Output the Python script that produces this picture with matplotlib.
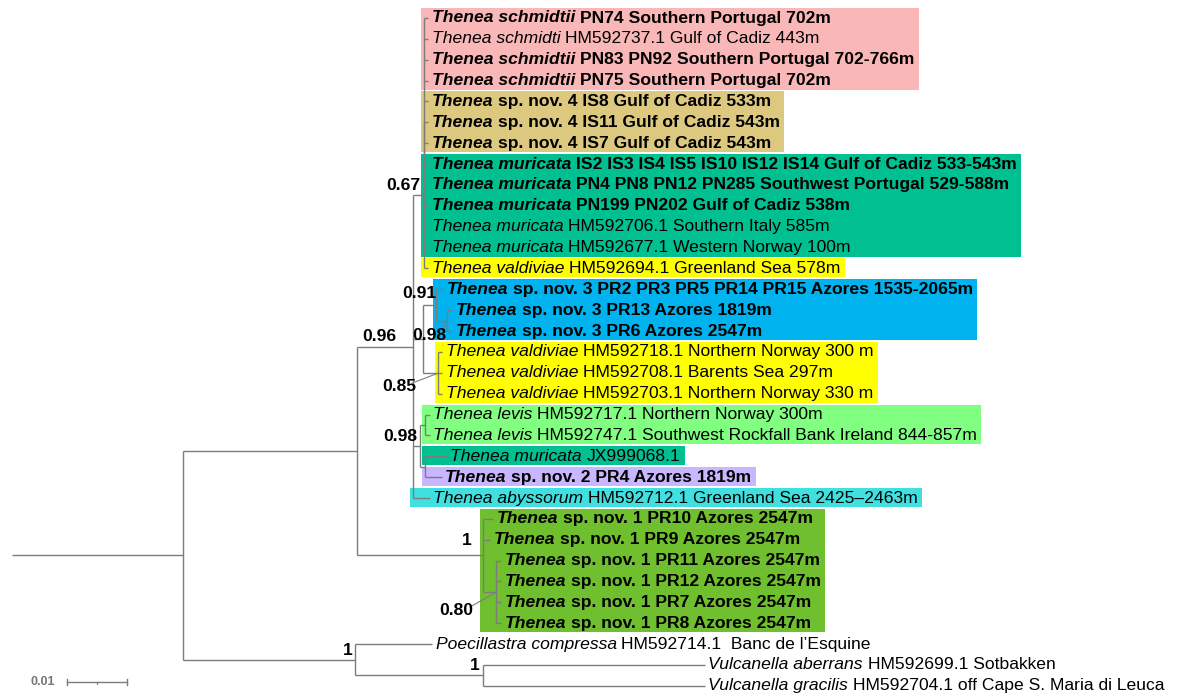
import matplotlib
matplotlib.use("Agg")
import matplotlib.pyplot as plt
from matplotlib.collections import LineCollection
from matplotlib.patches import Rectangle

# ---------------- DATA ----------------
# Tree topology with branch lengths (substitutions/site); leaves L1..L33 in display order
newick = ("(((((L1:0.0008,L2:0.0008,L3:0.0008,L4:0.0008,L5:0.0008,L6:0.0008,L7:0.0008,"
          "L8:0.0008,L9:0.0008,L10:0.0008,L11:0.0008)P:0,L12:0.0008,L13:0.0008)A:0.0018,"
          "((L14:0.0012,(L15:0.0008,L16:0.0008)N3b:0.0018)N3:0.0022,"
          "(L17:0.0007,L18:0.0007,L19:0.0007)V2:0.0025)C:0.0017,"
          "((L20:0.0008,L21:0.0008)LP:0.0008,(L22:0.0037,L23:0.0028)JN:0.0008)L:0.0012,"
          "L24:0.0028)B:0.0093,"
          "(L25:0.0017,L26:0.0012,(L27:0.0008,L28:0.0008,L29:0.0008,L30:0.0008)S:0.0022)N1:0.0210)I:0.0290,"
          "(L31:0.0128,(L32:0.0370,L33:0.0370)V:0.0213)O:0.0287)R:0.0285;")

taxon_names = [
    "Thenea schmidtii", "Thenea schmidti", "Thenea schmidtii", "Thenea schmidtii",
    "Thenea", "Thenea", "Thenea",
    "Thenea muricata", "Thenea muricata", "Thenea muricata", "Thenea muricata", "Thenea muricata",
    "Thenea valdiviae",
    "Thenea", "Thenea", "Thenea",
    "Thenea valdiviae", "Thenea valdiviae", "Thenea valdiviae",
    "Thenea levis", "Thenea levis", "Thenea muricata", "Thenea", "Thenea abyssorum",
    "Thenea", "Thenea", "Thenea", "Thenea", "Thenea", "Thenea",
    "Poecillastra compressa", "Vulcanella aberrans", "Vulcanella gracilis",
]
taxon_details = [
    "PN74 Southern Portugal 702m", "HM592737.1 Gulf of Cadiz 443m",
    "PN83 PN92 Southern Portugal 702-766m", "PN75 Southern Portugal 702m",
    "sp. nov. 4 IS8 Gulf of Cadiz 533m", "sp. nov. 4 IS11 Gulf of Cadiz 543m",
    "sp. nov. 4 IS7 Gulf of Cadiz 543m",
    "IS2 IS3 IS4 IS5 IS10 IS12 IS14 Gulf of Cadiz 533-543m",
    "PN4 PN8 PN12 PN285 Southwest Portugal 529-588m",
    "PN199 PN202 Gulf of Cadiz 538m",
    "HM592706.1 Southern Italy 585m", "HM592677.1 Western Norway 100m",
    "HM592694.1 Greenland Sea 578m",
    "sp. nov. 3 PR2 PR3 PR5 PR14 PR15 Azores 1535-2065m",
    "sp. nov. 3 PR13 Azores 1819m", "sp. nov. 3 PR6 Azores 2547m",
    "HM592718.1 Northern Norway 300 m", "HM592708.1 Barents Sea 297m",
    "HM592703.1 Northern Norway 330 m",
    "HM592717.1 Northern Norway 300m",
    "HM592747.1 Southwest Rockfall Bank Ireland 844-857m",
    "JX999068.1", "sp. nov. 2 PR4 Azores 1819m",
    "HM592712.1 Greenland Sea 2425\u20132463m",
    "sp. nov. 1 PR10 Azores 2547m", "sp. nov. 1 PR9 Azores 2547m",
    "sp. nov. 1 PR11 Azores 2547m", "sp. nov. 1 PR12 Azores 2547m",
    "sp. nov. 1 PR7 Azores 2547m", "sp. nov. 1 PR8 Azores 2547m",
    "HM592714.1  Banc de l\u2019Esquine", "HM592699.1 Sotbakken",
    "HM592704.1 off Cape S. Maria di Leuca",
]
new_specimen = [1, 0, 1, 1, 1, 1, 1, 1, 1, 1, 0, 0, 0, 1, 1, 1, 0, 0, 0,
                0, 0, 0, 1, 0, 1, 1, 1, 1, 1, 1, 0, 0, 0]

support_values = {"A": "0.67", "B": "0.96", "N3": "0.91", "N3b": "0.98", "V2": "0.85",
                  "L": "0.98", "N1": "1", "S": "0.80", "O": "1", "V": "1"}

# highlighted clades: (first leaf, last leaf), 1-based
highlight_groups = [(1, 4), (5, 7), (8, 12), (13, 13), (14, 16), (17, 19),
                    (20, 21), (22, 22), (23, 23), (24, 24), (25, 30)]
highlight_colors = ["#F9B7B7", "#DCC87E", "#00BF90", "#FFFF00", "#00B2EE", "#FFFF00",
                    "#80FF80", "#00BF90", "#C8B6FF", "#40E0E0", "#70BF2E"]

scale_bar_length = 0.01
scale_bar_label = "0.01"

# ---------------- STYLE / LAYOUT ----------------
W, H, DPI = 1181, 696, 100
PX_PER_UNIT = 6000.0
ROW_PX = 20.87
X0_PX, Y0_PX = 12, 18
FONT = "Liberation Sans"
FS = 12.6
LINE_COLOR = "#7c7c7c"
label_shift = {"B": (-16, -3), "N1": (-11, -7), "N3": (0, -4)}
leader_labels = {"N3b": (-18, 15), "V2": (-39, 14), "S": (-40, 19)}


def px_x(p):
    return p / PX_PER_UNIT


def px_y(p):
    return p / ROW_PX


def parse(s):
    pos = 0
    n_chars = len(s)

    def node():
        nonlocal pos
        n = {"children": [], "name": "", "len": 0.0}
        if s[pos] == "(":
            pos += 1
            while pos < n_chars:
                n["children"].append(node())
                if s[pos] == ",":
                    pos += 1
                    continue
                if s[pos] == ")":
                    pos += 1
                    break
                raise ValueError("bad newick at %d" % pos)
        start = pos
        while s[pos] not in ":,);":
            pos += 1
        n["name"] = s[start:pos]
        if s[pos] == ":":
            pos += 1
            start = pos
            while s[pos] not in ",);":
                pos += 1
            n["len"] = float(s[start:pos])
        return n

    return node()


root = parse(newick)
leaves = []
nodes = {}


def layout(n, x_parent, parent):
    n["x"] = x_parent + n["len"]
    n["parent"] = parent
    nodes[n["name"]] = n
    if not n["children"]:
        n["y"] = len(leaves)
        leaves.append(n)
    else:
        for c in n["children"]:
            layout(c, n["x"], n)
        n["y"] = (n["children"][0]["y"] + n["children"][-1]["y"]) / 2.0


layout(root, 0.0, None)

fig = plt.figure(figsize=(W / DPI, H / DPI), dpi=DPI)
ax = fig.add_axes([0, 0, 1, 1])
ax.set_axis_off()
ax.set_xlim(-X0_PX / PX_PER_UNIT, (W - X0_PX) / PX_PER_UNIT)
ax.set_ylim((H - Y0_PX) / ROW_PX, -Y0_PX / ROW_PX)

# tree branches
segs = [[(0.0, root["y"]), (root["x"], root["y"])]]
for n in nodes.values():
    if n["children"]:
        segs.append([(n["x"], n["children"][0]["y"]), (n["x"], n["children"][-1]["y"])])
        for c in n["children"]:
            segs.append([(n["x"], c["y"]), (c["x"], c["y"])])
ax.add_collection(LineCollection(segs, colors=LINE_COLOR, linewidths=1.0, zorder=3,
                                 capstyle="butt"))

# leaf labels
space_px = FS * DPI / 72.0 * 0.278
second_texts = []
for lf in leaves:
    i = int(lf["name"][1:]) - 1
    w = "bold" if new_specimen[i] else "normal"
    t1 = ax.text(lf["x"] + px_x(3.5), lf["y"], taxon_names[i], fontsize=FS, family=FONT,
                 style="italic", weight=w, ha="left", va="center", zorder=4)
    t2 = ax.annotate(taxon_details[i], xy=(1, 0), xycoords=t1, xytext=(space_px, 0),
                     textcoords="offset pixels", ha="left", va="bottom", fontsize=FS,
                     family=FONT, weight=w, zorder=4)
    second_texts.append(t2)

# support labels
for name, val in support_values.items():
    n = nodes[name]
    if name in leader_labels:
        dx, dy = leader_labels[name]
        cx, cy = n["x"] + px_x(dx), n["y"] + px_y(dy)
        ax.text(cx, cy, val, fontsize=FS, family=FONT, weight="bold",
                ha="center", va="center", zorder=5)
        ax.plot([cx + px_x(14), n["x"] - px_x(1.5)], [cy - px_y(4), n["y"] + px_y(1)],
                color=LINE_COLOR, lw=0.8, zorder=3)
    else:
        dx, dy = label_shift.get(name, (-3, -2))
        ax.text(n["x"] + px_x(dx), n["y"] + px_y(dy), val, fontsize=FS, family=FONT,
                weight="bold", ha="right", va="bottom", zorder=5)

# highlight boxes sized from text extents
fig.canvas.draw()
renderer = fig.canvas.get_renderer()
inv = ax.transData.inverted()
for (a, b), col in zip(highlight_groups, highlight_colors):
    right_disp = max(second_texts[k].get_window_extent(renderer).x1 for k in range(a - 1, b))
    right = inv.transform((right_disp, 0))[0] + px_x(4)
    left = leaves[a - 1]["parent"]["x"] - px_x(3)
    top = leaves[a - 1]["y"] - 0.48
    bottom = leaves[b - 1]["y"] + 0.43
    ax.add_patch(Rectangle((left, top), right - left, bottom - top, facecolor=col,
                           edgecolor="none", zorder=1))

# scale bar
sb_x0 = px_x(67 - X0_PX)
sb_y = px_y(682 - Y0_PX)
tk = px_y(3)
ax.plot([sb_x0, sb_x0 + scale_bar_length], [sb_y, sb_y], color=LINE_COLOR, lw=1.0)
for xx in (sb_x0, sb_x0 + scale_bar_length):
    ax.plot([xx, xx], [sb_y - tk, sb_y + tk], color=LINE_COLOR, lw=1.0)
ax.plot([sb_x0 + scale_bar_length / 2] * 2, [sb_y, sb_y + tk * 0.6], color=LINE_COLOR, lw=0.8)
ax.text(sb_x0 - px_x(12), sb_y, scale_bar_label, fontsize=9, family=FONT, weight="bold",
        color="#777777", ha="right", va="center")

fig.savefig("out.png", dpi=DPI, facecolor="white")
